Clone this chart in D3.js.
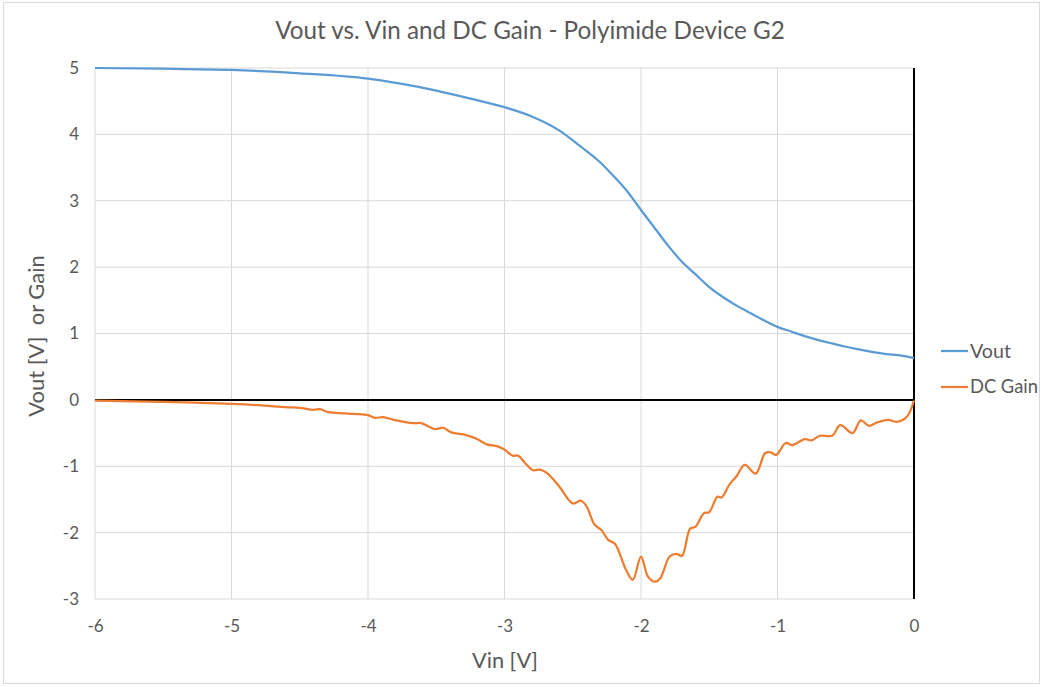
<!DOCTYPE html>
<html><head><meta charset="utf-8">
<script src="https://cdn.jsdelivr.net/npm/d3@7"></script>
<style>body{margin:0;background:#fff}svg{display:block}text{font-family:Lato,"Open Sans",sans-serif}</style>
</head><body>
<svg id="c" width="1042" height="687"></svg>
<script>
const voutVin = [-6,-5.5,-5,-4.5,-4,-3.75,-3.5,-3.25,-3,-2.8,-2.6,-2.45,-2.3,-2.2,-2.1,-2,-1.9,-1.8,-1.7,-1.6,-1.5,-1.4,-1.3,-1.2,-1.1,-1,-0.9,-0.8,-0.7,-0.6,-0.5,-0.4,-0.3,-0.2,-0.1,0];
const voutVals = [5.00,4.99,4.97,4.92,4.84,4.76,4.66,4.54,4.41,4.27,4.06,3.83,3.58,3.37,3.14,2.86,2.59,2.32,2.08,1.89,1.70,1.55,1.42,1.31,1.20,1.10,1.03,0.96,0.90,0.85,0.80,0.76,0.72,0.69,0.67,0.63];
const gainVin = [-6,-5.5,-5,-4.8,-4.6,-4.5,-4.4,-4.35,-4.3,-4.1,-4.0,-3.95,-3.89,-3.81,-3.67,-3.61,-3.51,-3.45,-3.39,-3.28,-3.20,-3.13,-3.05,-3.0,-2.94,-2.90,-2.85,-2.79,-2.74,-2.69,-2.60,-2.50,-2.44,-2.40,-2.34,-2.29,-2.24,-2.19,-2.11,-2.06,-2.0,-1.95,-1.90,-1.86,-1.79,-1.74,-1.70,-1.64,-1.60,-1.54,-1.50,-1.44,-1.41,-1.35,-1.30,-1.24,-1.16,-1.09,-1.05,-1.01,-0.94,-0.89,-0.80,-0.75,-0.69,-0.60,-0.54,-0.45,-0.39,-0.33,-0.27,-0.19,-0.13,-0.06,-0.03,0];
const gainVals = [-0.01,-0.03,-0.06,-0.08,-0.11,-0.12,-0.15,-0.14,-0.18,-0.21,-0.23,-0.27,-0.26,-0.30,-0.35,-0.35,-0.44,-0.42,-0.49,-0.53,-0.59,-0.67,-0.70,-0.75,-0.84,-0.84,-0.95,-1.06,-1.05,-1.10,-1.30,-1.56,-1.52,-1.60,-1.88,-1.96,-2.11,-2.17,-2.56,-2.71,-2.36,-2.66,-2.74,-2.69,-2.36,-2.32,-2.35,-1.94,-1.91,-1.71,-1.69,-1.46,-1.47,-1.27,-1.15,-0.98,-1.11,-0.80,-0.79,-0.83,-0.65,-0.68,-0.59,-0.61,-0.54,-0.54,-0.38,-0.50,-0.31,-0.39,-0.34,-0.30,-0.33,-0.27,-0.18,-0.01];
const xTicks = [-6,-5,-4,-3,-2,-1,0];
const yTicks = [-3,-2,-1,0,1,2,3,4,5];
const seriesNames = ["Vout","DC Gain"];
const seriesColors = ["#5b9bd5","#ed7d31"];
const titleText = "Vout vs. Vin and DC Gain - Polyimide Device G2";

const svg = d3.select("#c");
const x = d3.scaleLinear().domain([-6,0]).range([95,914]);
const y = d3.scaleLinear().domain([-3,5]).range([599,68]);
const fmt = d => String(d);
function fit(sel, base, target){
  sel.style("font-size", base+"px");
  const w = sel.node().getComputedTextLength();
  sel.style("font-size", (base*target/w)+"px");
}

svg.append("rect").attr("x",3.5).attr("y",2.5).attr("width",1036).attr("height",681)
  .attr("fill","#fff").attr("stroke","#d9d9d9");

svg.append("g").selectAll("line").data(xTicks).join("line")
  .attr("x1",d=>x(d)).attr("x2",d=>x(d)).attr("y1",y(5)).attr("y2",y(-3))
  .attr("stroke","#d9d9d9").attr("stroke-width",1);
svg.append("g").selectAll("line").data(yTicks).join("line")
  .attr("x1",x(-6)).attr("x2",x(0)).attr("y1",d=>y(d)).attr("y2",d=>y(d))
  .attr("stroke","#d9d9d9").attr("stroke-width",1);

const xAxis = svg.append("g").attr("transform",`translate(0,${y(-3)+18})`)
  .call(d3.axisBottom(x).tickValues(xTicks).tickSize(0).tickFormat(fmt));
xAxis.select(".domain").remove();
xAxis.selectAll("text").attr("fill","#595959").style("font-size","17px").attr("dy","0.71em");
const yAxis = svg.append("g").attr("transform",`translate(${x(-6)-13},0)`)
  .call(d3.axisLeft(y).tickValues(yTicks).tickSize(0).tickFormat(fmt));
yAxis.select(".domain").remove();
yAxis.selectAll("text").attr("fill","#595959").style("font-size","17px");

svg.append("line").attr("x1",x(-6)).attr("x2",x(0)).attr("y1",y(0)).attr("y2",y(0))
  .attr("stroke","#000").attr("stroke-width",2);
svg.append("line").attr("x1",x(0)).attr("x2",x(0)).attr("y1",y(5)).attr("y2",y(-3))
  .attr("stroke","#000").attr("stroke-width",2);

const lineV = d3.line().x(d=>x(d[0])).y(d=>y(d[1])).curve(d3.curveMonotoneX);
const lineG = d3.line().x(d=>x(d[0])).y(d=>y(d[1])).curve(d3.curveCatmullRom.alpha(0.5));
const vout = voutVin.map((v,i)=>[v,voutVals[i]]);
const gain = gainVin.map((v,i)=>[v,gainVals[i]]);
svg.append("path").attr("d",lineV(vout)).attr("fill","none").attr("stroke",seriesColors[0]).attr("stroke-width",2.25);
svg.append("path").attr("d",lineG(gain)).attr("fill","none").attr("stroke",seriesColors[1]).attr("stroke-width",2.25);

const t = svg.append("text").attr("x",530).attr("y",39).attr("text-anchor","middle")
  .attr("fill","#595959").text(titleText);
fit(t,21,510);

const xt = svg.append("text").attr("x",505).attr("y",668).attr("text-anchor","middle")
  .attr("fill","#595959").text("Vin [V]");
fit(xt,20,66);
svg.append("text").attr("transform","translate(44,336) rotate(-90)").attr("text-anchor","middle")
  .attr("fill","#595959").style("white-space","pre").style("font-size","22px")
  .text("Vout [V]  or Gain");

const lg = svg.append("g");
seriesNames.forEach((n,i)=>{
  const ly = 351 + i*36;
  lg.append("line").attr("x1",941).attr("x2",968).attr("y1",ly).attr("y2",ly)
    .attr("stroke",seriesColors[i]).attr("stroke-width",2.25);
  const tx = lg.append("text").attr("x",970).attr("y",ly).attr("dy","0.35em")
    .attr("fill","#595959").text(n);
  fit(tx,17, i===0 ? 41 : 68);
});
</script>
</body></html>
